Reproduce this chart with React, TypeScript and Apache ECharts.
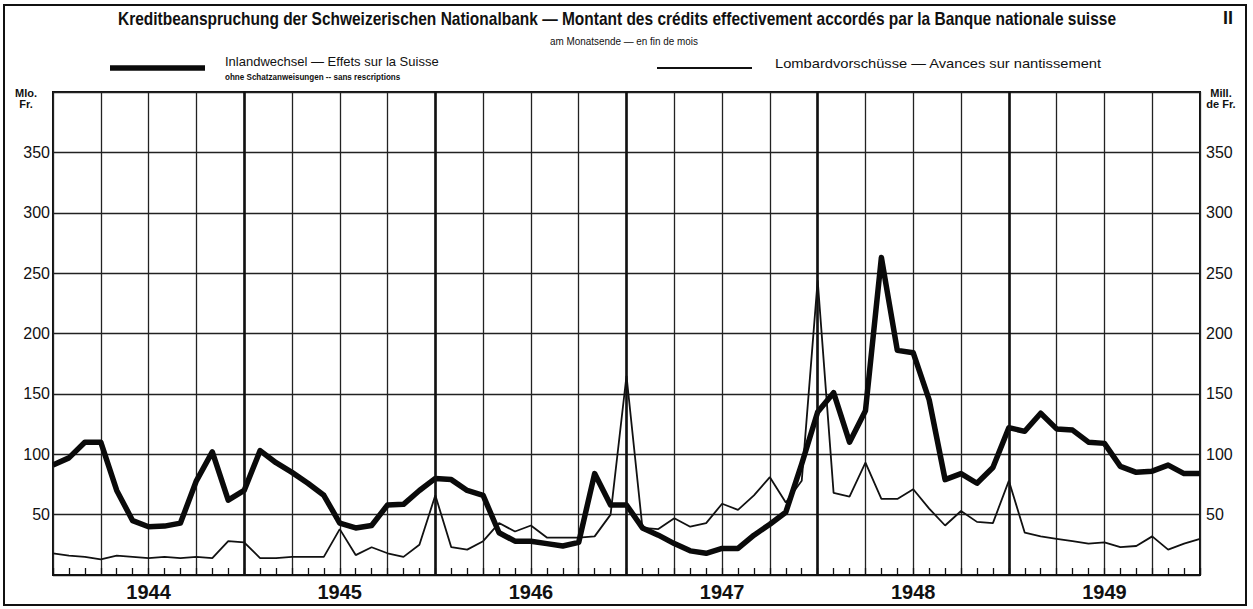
import React, { useEffect, useRef } from "react";
import * as echarts from "echarts";

const years = [1944, 1945, 1946, 1947, 1948, 1949];
const monthCodes = ["01", "02", "03", "04", "05", "06", "07", "08", "09", "10", "11", "12"];
const startCategory = "1943-12";

// Inlandwechsel — Effets sur la Suisse (Mio. Fr., month end, Dec 1943 – Dec 1949)
const inland = [
  91, 97, 110, 110, 70, 45, 40, 40.5, 43, 78, 102, 62, 70,
  103, 93, 85, 76, 66, 43, 39, 41, 58, 58.5, 70, 80,
  79, 70, 66, 35, 28, 28, 26, 24, 27, 84, 58, 58,
  39, 33, 26, 20, 18, 22, 22, 33, 42, 52, 92, 135,
  151, 110, 136, 263, 186, 184, 145, 79, 84, 76, 89, 122,
  119, 134, 121, 120, 110, 109, 90, 85, 86, 91, 84, 84,
];

// Lombardvorschüsse — Avances sur nantissement
const lombard = [
  18, 16, 15, 13, 16, 15, 14, 15, 14, 15, 14, 28, 27,
  14, 14, 15, 15, 15, 38, 16.5, 23, 18, 15, 25, 66,
  23, 21, 28, 43, 36, 41, 31, 31, 31, 32, 50, 165,
  39, 38, 47, 40, 43, 59, 54, 66, 81, 60, 78, 244,
  68, 65, 93, 63, 63, 71, 55, 41, 53, 44, 43, 78,
  35, 32, 30, 28, 26, 27, 23, 24, 32, 21, 26, 30,
];

const yTicks = [50, 100, 150, 200, 250, 300, 350];

const categories: string[] = [startCategory];
years.forEach((y) => monthCodes.forEach((m) => categories.push(`${y}-${m}`)));
const yearEnds = years.slice(0, -1).map((y) => `${y}-12`);

const FONT = '"Liberation Sans", Arial, sans-serif';

export default function App() {
  const ref = useRef<HTMLDivElement>(null);
  useEffect(() => {
    if (!ref.current) return;
    const chart = echarts.init(ref.current, undefined, { renderer: "svg" });
    const yLabel = (v: number) => (yTicks.includes(v) ? String(v) : "");
    chart.setOption({
      animation: false,
      backgroundColor: "#fff",
      textStyle: { fontFamily: FONT },
      grid: {
        left: 53,
        right: 53,
        top: 92,
        bottom: 34,
        show: true,
        borderColor: "#111",
        borderWidth: 2,
        backgroundColor: "transparent",
      },
      xAxis: {
        type: "category",
        data: categories,
        boundaryGap: false,
        axisLine: { show: true, lineStyle: { color: "#111", width: 2 } },
        axisTick: { show: true, inside: true, length: 7, interval: 0, lineStyle: { color: "#111", width: 1.3 } },
        axisLabel: {
          interval: (i: number) => i % 12 === 6,
          formatter: (v: string) => v.slice(0, 4),
          fontSize: 20,
          fontWeight: "bold",
          color: "#111",
          margin: 7,
          fontFamily: FONT,
        },
        splitLine: {
          show: true,
          interval: (i: number) => i % 3 === 0,
          lineStyle: { color: "#222", width: 1.3 },
        },
      },
      yAxis: [
        {
          type: "value",
          min: 0,
          max: 400,
          interval: 50,
          position: "left",
          axisLine: { show: false },
          axisTick: { show: false },
          axisLabel: { formatter: yLabel, fontSize: 16, color: "#111", margin: 3, fontFamily: FONT },
          splitLine: { show: true, lineStyle: { color: "#222", width: 1.3 } },
        },
        {
          type: "value",
          min: 0,
          max: 400,
          interval: 50,
          position: "right",
          axisLine: { show: false },
          axisTick: { show: false },
          axisLabel: { formatter: yLabel, fontSize: 16, color: "#111", margin: 6, fontFamily: FONT },
          splitLine: { show: false },
        },
      ],
      series: [
        {
          name: "Lombardvorschüsse",
          type: "line",
          data: lombard,
          showSymbol: false,
          symbol: "none",
          lineStyle: { color: "#111", width: 1.8 },
          z: 3,
          markLine: {
            silent: true,
            symbol: "none",
            label: { show: false },
            lineStyle: { color: "#111", width: 2.6, type: "solid" },
            data: yearEnds.map((c) => ({ xAxis: c })),
          },
        },
        {
          name: "Inlandwechsel",
          type: "line",
          data: inland,
          showSymbol: false,
          symbol: "none",
          lineStyle: { color: "#0a0a0a", width: 5.5, join: "round" },
          z: 4,
        },
      ],
      graphic: [
        {
          type: "rect",
          shape: { x: 4, y: 5, width: 1242, height: 600 },
          style: { fill: "none", stroke: "#111", lineWidth: 2 },
          silent: true,
        },
        {
          type: "text",
          x: 617,
          y: 18,
          scaleX: 0.815,
          style: {
            text: "Kreditbeanspruchung der Schweizerischen Nationalbank — Montant des crédits effectivement accordés par la Banque nationale suisse",
            font: `bold 19px ${FONT}`,
            fill: "#111",
            textAlign: "center",
            textVerticalAlign: "middle",
          },
        },
        {
          type: "text",
          x: 1228,
          y: 18,
          style: { text: "II", font: `bold 18px ${FONT}`, fill: "#111", textAlign: "center", textVerticalAlign: "middle" },
        },
        {
          type: "text",
          x: 624,
          y: 41,
          scaleX: 0.9,
          style: {
            text: "am Monatsende — en fin de mois",
            font: `11px ${FONT}`,
            fill: "#111",
            textAlign: "center",
            textVerticalAlign: "middle",
          },
        },
        {
          type: "line",
          shape: { x1: 110, y1: 68, x2: 205, y2: 68 },
          style: { stroke: "#0a0a0a", lineWidth: 5.5 },
        },
        {
          type: "text",
          x: 225,
          y: 61,
          style: {
            text: "Inlandwechsel — Effets sur la Suisse",
            font: `13px ${FONT}`,
            fill: "#111",
            textAlign: "left",
            textVerticalAlign: "middle",
          },
        },
        {
          type: "text",
          x: 225,
          y: 77,
          scaleX: 0.95,
          style: {
            text: "ohne Schatzanweisungen -- sans rescriptions",
            font: `bold 8.5px ${FONT}`,
            fill: "#111",
            textAlign: "left",
            textVerticalAlign: "middle",
          },
        },
        {
          type: "line",
          shape: { x1: 657, y1: 68, x2: 752, y2: 68 },
          style: { stroke: "#111", lineWidth: 1.8 },
        },
        {
          type: "text",
          x: 775,
          y: 63,
          scaleX: 1.13,
          style: {
            text: "Lombardvorschüsse — Avances sur nantissement",
            font: `13px ${FONT}`,
            fill: "#111",
            textAlign: "left",
            textVerticalAlign: "middle",
          },
        },
        {
          type: "text",
          x: 26,
          y: 93,
          style: { text: "Mlo.", font: `bold 11px ${FONT}`, fill: "#111", textAlign: "center", textVerticalAlign: "middle" },
        },
        {
          type: "text",
          x: 26,
          y: 104,
          style: { text: "Fr.", font: `bold 11px ${FONT}`, fill: "#111", textAlign: "center", textVerticalAlign: "middle" },
        },
        {
          type: "text",
          x: 1221,
          y: 93,
          style: { text: "Mill.", font: `bold 11px ${FONT}`, fill: "#111", textAlign: "center", textVerticalAlign: "middle" },
        },
        {
          type: "text",
          x: 1221,
          y: 104,
          style: { text: "de Fr.", font: `bold 11px ${FONT}`, fill: "#111", textAlign: "center", textVerticalAlign: "middle" },
        },
      ],
    });
    return () => chart.dispose();
  }, []);
  return <div ref={ref} style={{ position: "fixed", left: 0, top: 0, width: 1253, height: 609 }} />;
}
